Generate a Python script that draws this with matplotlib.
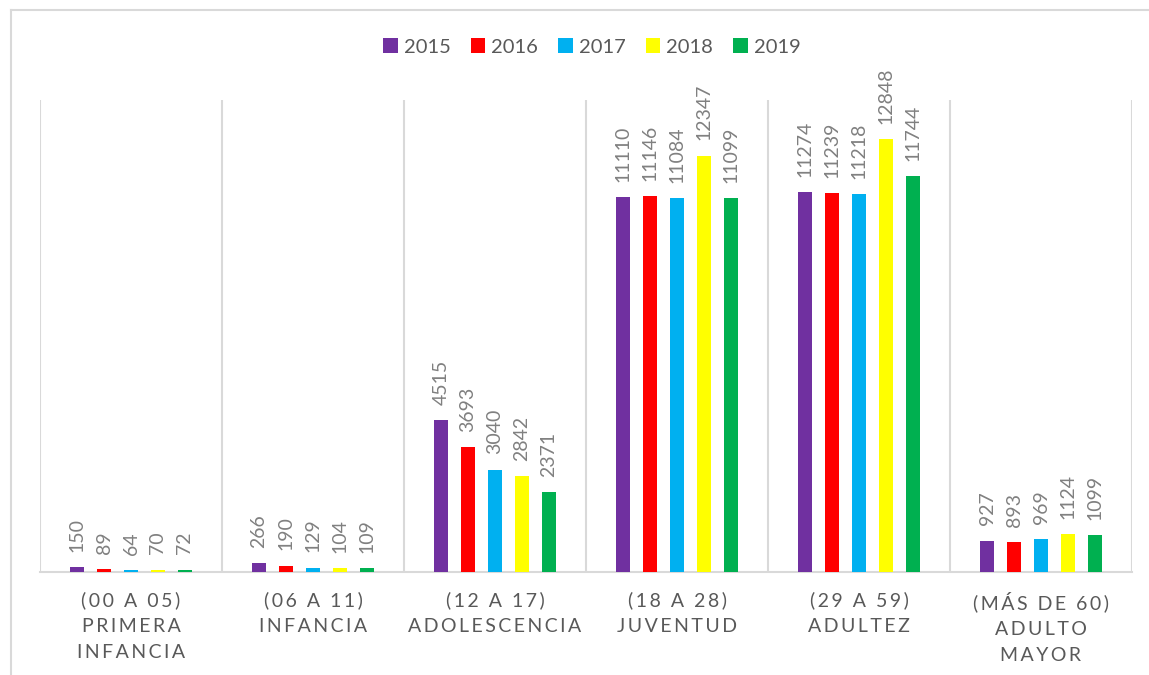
import numpy as np
import matplotlib as mpl
import matplotlib.pyplot as plt
from matplotlib.lines import Line2D

years = ['2015', '2016', '2017', '2018', '2019']
categories = ['(00 A 05)\nPRIMERA\nINFANCIA',
              '(06 A 11)\nINFANCIA',
              '(12 A 17)\nADOLESCENCIA',
              '(18 A 28)\nJUVENTUD',
              '(29 A 59)\nADULTEZ',
              '(MÁS DE 60)\nADULTO\nMAYOR']
v2015 = [150, 266, 4515, 11110, 11274, 927]
v2016 = [89, 190, 3693, 11146, 11239, 893]
v2017 = [64, 129, 3040, 11084, 11218, 969]
v2018 = [70, 104, 2842, 12347, 12848, 1124]
v2019 = [72, 109, 2371, 11099, 11744, 1099]
series = [v2015, v2016, v2017, v2018, v2019]
colors = ['#7030A0', '#FF0000', '#00B0F0', '#FFFF00', '#00B050']

mpl.rcParams['font.family'] = ['Lato', 'DejaVu Sans']

fig = plt.figure(figsize=(11.49, 6.75), dpi=100)
ax = fig.add_axes([40 / 1149, 1 - 572 / 675, 1092 / 1149, 472 / 675])

x = np.arange(len(categories))
slot = 0.148
width = 0.077
for i, (vals, c, yr) in enumerate(zip(series, colors, years)):
    pos = x + (i - 2) * slot
    bars = ax.bar(pos, vals, width, color=c, label=yr, zorder=3)
    for b, v in zip(bars, vals):
        ax.annotate(str(v), (b.get_x() + b.get_width() / 2, v),
                    xytext=(0, 11), textcoords='offset points',
                    rotation=90, ha='center', va='bottom',
                    fontsize=14, color='#808080')

ax.set_xlim(-0.5, len(categories) - 0.5)
ax.set_ylim(0, 14000)
ax.set_yticks([])
ax.set_xticks(np.arange(len(categories) + 1) - 0.5, minor=True)
ax.set_xticks([])
ax.grid(True, which='minor', axis='x', color='#d9d9d9', linewidth=1.5)
ax.tick_params(which='both', length=0)
for s in ['top', 'left', 'right']:
    ax.spines[s].set_visible(False)
ax.spines['bottom'].set_color('#d9d9d9')
ax.spines['bottom'].set_linewidth(1.5)


def spaced(s):
    return '\n'.join('\u2009'.join(ch for ch in line) for line in s.split('\n'))


for xi, lab in zip(x, categories):
    ax.text(xi, -0.041, spaced(lab), transform=ax.get_xaxis_transform(),
            ha='center', va='top', fontsize=14, color='#595959',
            linespacing=1.62)

ax.legend(loc='center', bbox_to_anchor=(0.5055, 1 + (100 - 47) / 472), ncol=5,
          frameon=False, fontsize=14.5, handlelength=0.72, handleheight=0.72,
          handletextpad=0.3, columnspacing=1.0, labelcolor='#595959')

fig.add_artist(Line2D([10.5 / 1149, 10.5 / 1149], [0, 1 - 9.5 / 675],
                      color='#d9d9d9', linewidth=1.5, transform=fig.transFigure))
fig.add_artist(Line2D([10.5 / 1149, 1], [1 - 9.5 / 675, 1 - 9.5 / 675],
                      color='#d9d9d9', linewidth=1.5, transform=fig.transFigure))

plt.savefig('out.png', dpi=100)
